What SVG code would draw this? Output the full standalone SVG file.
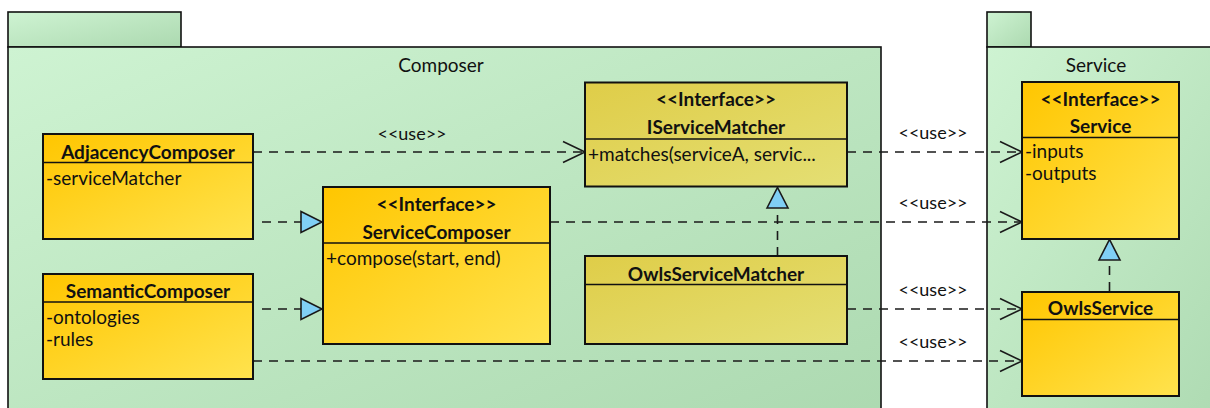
<svg xmlns="http://www.w3.org/2000/svg" width="1210" height="408" viewBox="0 0 1210 408">
  <style>
    .pkg { stroke: #111; stroke-width: 1.6; fill: url(#pkgFill); }
    .cls { stroke: #111; stroke-width: 2; fill: url(#clsFill); }
    .ifc2 { stroke: #111; stroke-width: 2; fill: url(#matchFill); }
    .div { stroke: #111; stroke-width: 1.6; }
    .edge { stroke: #1a1a1a; stroke-width: 1.6; fill: none; stroke-dasharray: 9 7; }
    .head { stroke: #1a1a1a; stroke-width: 1.6; fill: none; }
    .tri { stroke: #1a1a1a; stroke-width: 1.6; fill: #80cff5; }
    text { font-family: Lato, "Open Sans", "Liberation Sans", sans-serif; fill: #111; }
    .name { font-weight: bold; font-size: 19px; text-anchor: middle; }
    .member { font-size: 19px; }
    .pkgname { font-size: 19px; text-anchor: middle; }
    .use { font-size: 18px; text-anchor: middle; }
  </style>
  <defs>
    <linearGradient id="pkgFill" x1="0" y1="0" x2="1" y2="1">
      <stop offset="0" stop-color="#cef3d2"/>
      <stop offset="1" stop-color="#acd9b0"/>
    </linearGradient>
    <linearGradient id="clsFill" x1="0" y1="0" x2="1" y2="1">
      <stop offset="0" stop-color="#ffc600"/>
      <stop offset="1" stop-color="#ffe34e"/>
    </linearGradient>
    <linearGradient id="matchFill" x1="0" y1="0" x2="1" y2="1">
      <stop offset="0" stop-color="#dfcd48"/>
      <stop offset="1" stop-color="#e4df74"/>
    </linearGradient>
  </defs>

  <!-- packages -->
  <g id="pkg-composer">
    <rect class="pkg" x="8" y="12" width="173" height="35"/>
    <rect class="pkg" x="8" y="47" width="873" height="380"/>
    <text class="pkgname" x="441" y="72">Composer</text>
  </g>
  <g id="pkg-service">
    <rect class="pkg" x="987" y="12" width="44" height="35"/>
    <rect class="pkg" x="987" y="47" width="260" height="380"/>
    <text class="pkgname" x="1096" y="72">Service</text>
  </g>

  <!-- connectors -->
  <g id="connectors">
    <!-- AdjacencyComposer uses IServiceMatcher -->
    <line class="edge" x1="253" y1="152" x2="584" y2="152"/>
    <polyline class="head" points="563,141.5 585,152 563,162.5"/>
    <text class="use" x="412" y="140">&lt;&lt;use&gt;&gt;</text>

    <!-- IServiceMatcher uses Service -->
    <line class="edge" x1="847" y1="152" x2="1020" y2="152"/>
    <polyline class="head" points="1000,141.5 1022,152 1000,162.5"/>
    <text class="use" x="933" y="139">&lt;&lt;use&gt;&gt;</text>

    <!-- ServiceComposer uses Service -->
    <line class="edge" x1="550" y1="222" x2="1020" y2="222"/>
    <polyline class="head" points="1000,211.5 1022,222 1000,232.5"/>
    <text class="use" x="933" y="209">&lt;&lt;use&gt;&gt;</text>

    <!-- OwlsServiceMatcher uses OwlsService -->
    <line class="edge" x1="847" y1="309" x2="1020" y2="309"/>
    <polyline class="head" points="1000,298.5 1022,309 1000,319.5"/>
    <text class="use" x="933" y="296">&lt;&lt;use&gt;&gt;</text>

    <!-- SemanticComposer uses OwlsService -->
    <line class="edge" x1="253" y1="361" x2="1020" y2="361"/>
    <polyline class="head" points="1000,350.5 1022,361 1000,371.5"/>
    <text class="use" x="933" y="348">&lt;&lt;use&gt;&gt;</text>

    <!-- realizations of ServiceComposer -->
    <line class="edge" x1="262" y1="222" x2="301" y2="222"/>
    <polygon class="tri" points="301,211.5 322,222 301,232.5"/>
    <line class="edge" x1="262" y1="309" x2="301" y2="309"/>
    <polygon class="tri" points="301,298.5 322,309 301,319.5"/>

    <!-- OwlsServiceMatcher realizes IServiceMatcher -->
    <line class="edge" x1="777.5" y1="256" x2="777.5" y2="208"/>
    <polygon class="tri" points="767,208 777.5,187.5 788,208"/>

    <!-- OwlsService realizes Service -->
    <line class="edge" x1="1109.5" y1="291" x2="1109.5" y2="260"/>
    <polygon class="tri" points="1099,260 1109.5,239.5 1120,260"/>
  </g>

  <!-- classes -->
  <g id="AdjacencyComposer">
    <rect class="cls" x="43" y="134" width="210" height="105"/>
    <line class="div" x1="43" y1="162.5" x2="253" y2="162.5"/>
    <text class="name" x="148" y="159">AdjacencyComposer</text>
    <text class="member" x="46" y="185">-serviceMatcher</text>
  </g>

  <g id="SemanticComposer">
    <rect class="cls" x="43" y="274" width="210" height="105"/>
    <line class="div" x1="43" y1="302" x2="253" y2="302"/>
    <text class="name" x="148" y="298">SemanticComposer</text>
    <text class="member" x="46" y="324">-ontologies</text>
    <text class="member" x="46" y="346">-rules</text>
  </g>

  <g id="ServiceComposer">
    <rect class="cls" x="323" y="187" width="227" height="157"/>
    <line class="div" x1="323" y1="243" x2="550" y2="243"/>
    <text class="name" x="436.5" y="211">&lt;&lt;Interface&gt;&gt;</text>
    <text class="name" x="436.5" y="239">ServiceComposer</text>
    <text class="member" x="326" y="265">+compose(start, end)</text>
  </g>

  <g id="IServiceMatcher">
    <rect class="ifc2" x="585" y="82.5" width="262" height="104"/>
    <line class="div" x1="585" y1="139" x2="847" y2="139"/>
    <text class="name" x="716" y="106">&lt;&lt;Interface&gt;&gt;</text>
    <text class="name" x="716" y="134">IServiceMatcher</text>
    <text class="member" x="588" y="161">+matches(serviceA, servic...</text>
  </g>

  <g id="OwlsServiceMatcher">
    <rect class="ifc2" x="585" y="256" width="262" height="88"/>
    <line class="div" x1="585" y1="284.5" x2="847" y2="284.5"/>
    <text class="name" x="716" y="281">OwlsServiceMatcher</text>
  </g>

  <g id="Service">
    <rect class="cls" x="1022" y="82" width="157" height="157"/>
    <line class="div" x1="1022" y1="137.5" x2="1179" y2="137.5"/>
    <text class="name" x="1100.5" y="106">&lt;&lt;Interface&gt;&gt;</text>
    <text class="name" x="1100.5" y="133">Service</text>
    <text class="member" x="1025" y="158">-inputs</text>
    <text class="member" x="1025" y="180">-outputs</text>
  </g>

  <g id="OwlsService">
    <rect class="cls" x="1022" y="292" width="157" height="104"/>
    <line class="div" x1="1022" y1="319.5" x2="1179" y2="319.5"/>
    <text class="name" x="1100.5" y="315">OwlsService</text>
  </g>
</svg>
